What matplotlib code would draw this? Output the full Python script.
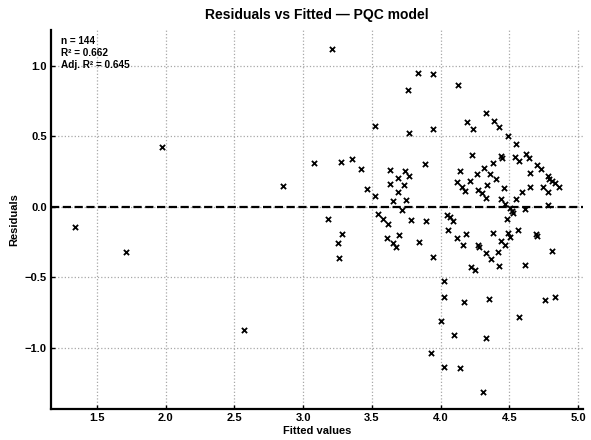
import matplotlib
matplotlib.use("Agg")
import matplotlib.pyplot as plt
import numpy as np

# fitted values / residuals
fitted = [
    1.34, 1.711, 1.973, 2.570, 2.854, 3.21,
    # 3.0 - 4.0, upper half
    3.839, 3.948, 3.762, 3.522, 3.771, 3.941, 3.082, 3.277, 3.357, 3.422,
    3.888, 3.635, 3.743, 3.771, 3.691, 3.633, 3.737, 3.466, 3.519, 3.689,
    3.653, 3.747, 3.718,
    # 4.0 - 5.0, upper half
    4.128, 4.332, 4.191, 4.235, 4.385, 4.426, 4.492, 4.550, 4.230, 4.436,
    4.446, 4.538, 4.567, 4.621, 4.645, 4.378, 4.317, 4.140, 4.264, 4.359,
    4.402, 4.698, 4.727, 4.652, 4.778, 4.790, 4.814, 4.834, 4.861, 4.116,
    4.155, 4.179, 4.213, 4.274, 4.303, 4.330, 4.339, 4.458, 4.441, 4.589,
    4.650, 4.747, 4.781, 4.545, 4.470, 4.507, 4.781, 4.616,
    # 4.0 - 5.0, lower half
    4.520, 4.530, 4.048, 4.068, 4.087, 4.485, 4.053, 4.116, 4.188, 4.164,
    4.271, 4.281, 4.378, 4.330, 4.366, 4.414, 4.439, 4.468, 4.487, 4.507,
    4.560, 4.691, 4.703, 4.807, 4.222, 4.247, 4.422, 4.614, 4.024, 4.028,
    4.169, 4.349, 4.756, 4.834, 4.572, 4.004, 4.097, 4.327, 4.028, 4.140,
    4.310,
    # 3.0 - 4.0, lower half
    3.182, 3.284, 3.255, 3.257, 3.541, 3.582, 3.614, 3.788, 3.895, 3.611,
    3.653, 3.675, 3.699, 3.844, 3.948, 3.932,
]
residuals = [
    -0.142, -0.319, 0.426, -0.872, 0.149, 1.12,
    0.950, 0.943, 0.830, 0.572, 0.523, 0.551, 0.308, 0.315, 0.336, 0.270,
    0.303, 0.258, 0.251, 0.220, 0.201, 0.159, 0.156, 0.128, 0.076, 0.104,
    0.043, 0.045, -0.020,
    0.865, 0.662, 0.603, 0.553, 0.608, 0.565, 0.499, 0.445, 0.364, 0.360,
    0.345, 0.355, 0.324, 0.371, 0.348, 0.312, 0.277, 0.251, 0.232, 0.232,
    0.194, 0.294, 0.265, 0.241, 0.218, 0.199, 0.184, 0.166, 0.138, 0.175,
    0.138, 0.109, 0.180, 0.121, 0.095, 0.064, 0.152, 0.133, 0.052, 0.102,
    0.138, 0.142, 0.106, 0.052, 0.017, -0.007, 0.015, -0.014,
    -0.028, -0.043, -0.057, -0.075, -0.099, -0.089, -0.165, -0.224, -0.196, -0.274,
    -0.274, -0.284, -0.184, -0.331, -0.373, -0.321, -0.245, -0.274, -0.189, -0.213,
    -0.165, -0.196, -0.210, -0.312, -0.426, -0.451, -0.421, -0.411, -0.527, -0.638,
    -0.678, -0.655, -0.660, -0.640, -0.780, -0.813, -0.908, -0.931, -1.135, -1.146,
    -1.316,
    -0.089, -0.191, -0.260, -0.364, -0.050, -0.089, -0.125, -0.097, -0.104, -0.222,
    -0.257, -0.284, -0.201, -0.252, -0.359, -1.038,
]

stats_lines = ["n = 144", "R\u00b2 = 0.662", "Adj. R\u00b2 = 0.645"]
x_ticks = [1.5, 2.0, 2.5, 3.0, 3.5, 4.0, 4.5, 5.0]
y_ticks = [-1.0, -0.5, 0.0, 0.5, 1.0]

plt.rcParams["font.family"] = ["Liberation Sans", "DejaVu Sans"]

fig = plt.figure(figsize=(5.91, 4.40), dpi=100)
ax = fig.add_axes([51 / 591, 31 / 440, 532 / 591, 379 / 440])

ax.scatter(fitted, residuals, marker="x", s=14, color="black", linewidths=1.3, zorder=3)
ax.axhline(0, color="black", linestyle="--", linewidth=1.6, zorder=2)

ax.set_xlim(1.165, 5.036)
ax.set_ylim(-1.434, 1.253)
ax.set_xticks(x_ticks)
ax.set_yticks(y_ticks)
ax.grid(True, linestyle=":", color="#a8a8a8", linewidth=0.9)

for side in ("top", "right"):
    ax.spines[side].set_visible(False)
for side in ("left", "bottom"):
    ax.spines[side].set_linewidth(1.6)

ax.tick_params(labelsize=8, width=1.0, length=3, direction="in", pad=3)
for lab in ax.get_xticklabels() + ax.get_yticklabels():
    lab.set_fontweight("bold")

ax.set_title("Residuals vs Fitted \u2014 PQC model", fontsize=10, fontweight="bold", pad=8)
ax.set_xlabel("Fitted values", fontsize=8, fontweight="bold", labelpad=2)
ax.set_ylabel("Residuals", fontsize=8, fontweight="bold", labelpad=4)

ax.text(0.019, 0.985, "\n".join(stats_lines), transform=ax.transAxes,
        fontsize=7.2, fontweight="bold", va="top", ha="left", linespacing=1.25)

fig.savefig("out.png", dpi=100)
